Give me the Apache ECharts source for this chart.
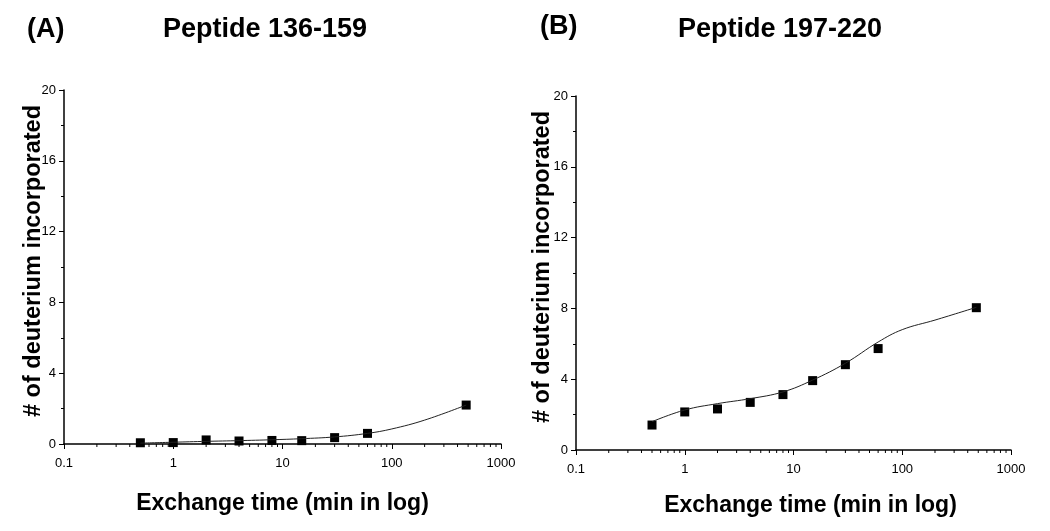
<!DOCTYPE html>
<html>
<head>
<meta charset="utf-8">
<script src="https://cdn.jsdelivr.net/npm/echarts@6/dist/echarts.min.js"></script>
<style>
  html, body { margin: 0; padding: 0; background: #fff; }
  #main { width: 1050px; height: 531px; }
</style>
</head>
<body>
<div id="main"></div>
<script>
// exchange times (min)
var times = [0.5, 1, 2, 4, 8, 15, 30, 60, 480];
// measured deuterium uptake
var uptakeA = [0.07, 0.08, 0.23, 0.17, 0.2, 0.19, 0.36, 0.6, 2.2];
var uptakeB = [1.41, 2.15, 2.32, 2.69, 3.13, 3.92, 4.82, 5.73, 8.04];
// fitted curves
var fitTimes = [0.5, 1, 2, 4, 8, 15, 30, 60, 100, 200, 480];
var fitA = [0.05, 0.1, 0.15, 0.19, 0.24, 0.3, 0.4, 0.6, 0.85, 1.35, 2.2];
var fitB = [1.6, 2.26, 2.62, 2.9, 3.28, 3.95, 4.9, 6.1, 6.8, 7.34, 8.06];
// log axis minor tick positions
var minorTicks = [0.2, 0.3, 0.4, 0.5, 0.6, 0.7, 0.8, 0.9,
  2, 3, 4, 5, 6, 7, 8, 9, 20, 30, 40, 50, 60, 70, 80, 90,
  200, 300, 400, 500, 600, 700, 800, 900];
var titles = ['(A)', 'Peptide 136-159', '(B)', 'Peptide 197-220'];
var xName = 'Exchange time (min in log)';
var yName = '# of deuterium incorporated';

var font = 'Liberation Sans, Arial, sans-serif';

function pairs(xs, ys) {
  return xs.map(function (x, i) { return [x, ys[i]]; });
}

function xAxisOpt(idx, gap, pad) {
  return {
    type: 'log', logBase: 10, min: 0.1, max: 1000, gridIndex: idx,
    name: xName, nameLocation: 'middle', nameGap: gap,
    nameTextStyle: { fontFamily: font, fontSize: 23, fontWeight: 'bold', color: '#000', padding: pad },
    axisLine: { lineStyle: { color: '#000', width: 1.5 } },
    axisTick: { length: 5, lineStyle: { color: '#000' } },
    axisLabel: {
      fontFamily: font, fontSize: 13, color: '#000', margin: 13,
      formatter: function (v) { return String(+(+v).toPrecision(6)); }
    },
    splitLine: { show: false }
  };
}

function yAxisOpt(idx, gap) {
  return {
    type: 'value', min: 0, max: 20, interval: 4, gridIndex: idx,
    name: yName, nameLocation: 'middle', nameGap: gap, nameMoveOverlap: false,
    nameTextStyle: { fontFamily: font, fontSize: 23.5, fontWeight: 'bold', color: '#000', padding: [0, 0, 0, 12] },
    axisLine: { show: true, lineStyle: { color: '#000', width: 1.5 } },
    axisTick: { show: true, length: 5, lineStyle: { color: '#000' } },
    minorTick: { show: true, splitNumber: 2, length: 3, lineStyle: { color: '#000' } },
    axisLabel: { fontFamily: font, fontSize: 13, color: '#000', margin: 8 },
    splitLine: { show: false }
  };
}

function minorTickSeries(idx) {
  return {
    type: 'custom', xAxisIndex: idx, yAxisIndex: idx, silent: true, z: 5,
    data: minorTicks.map(function (v) { return [v, 0]; }),
    renderItem: function (params, api) {
      var p = api.coord([api.value(0), 0]);
      return {
        type: 'line',
        shape: { x1: p[0], y1: p[1], x2: p[0], y2: p[1] + 3 },
        style: { stroke: '#000', lineWidth: 1 }
      };
    }
  };
}

function fitSeries(idx, ys) {
  return {
    type: 'line', xAxisIndex: idx, yAxisIndex: idx, smooth: 0.4,
    showSymbol: false, silent: true,
    lineStyle: { color: '#222', width: 1 },
    data: pairs(fitTimes, ys)
  };
}

function pointSeries(idx, ys) {
  return {
    type: 'scatter', xAxisIndex: idx, yAxisIndex: idx,
    symbol: 'rect', symbolSize: 9,
    itemStyle: { color: '#000', opacity: 1 },
    data: pairs(times, ys)
  };
}

var titleStyle = { fontFamily: font, fontSize: 27, fontWeight: 'bold', color: '#000' };

var myChart = echarts.init(document.getElementById('main'));
var option = {
  animation: false,
  backgroundColor: '#fff',
  title: [
    { text: titles[0], left: 22, top: 11, textStyle: titleStyle },
    { text: titles[1], left: 158, top: 11, textStyle: titleStyle },
    { text: titles[2], left: 535, top: 8, textStyle: titleStyle },
    { text: titles[3], left: 673, top: 11, textStyle: titleStyle }
  ],
  grid: [
    { left: 64, top: 90, width: 437, height: 354 },
    { left: 576, top: 96, width: 435, height: 354 }
  ],
  xAxis: [xAxisOpt(0, 48, 0), xAxisOpt(1, 44, [0, 0, 0, 34])],
  yAxis: [yAxisOpt(0, 18), yAxisOpt(1, 21)],
  series: [
    minorTickSeries(0), minorTickSeries(1),
    fitSeries(0, fitA), fitSeries(1, fitB),
    pointSeries(0, uptakeA), pointSeries(1, uptakeB)
  ]
};
myChart.setOption(option);
</script>
</body>
</html>
